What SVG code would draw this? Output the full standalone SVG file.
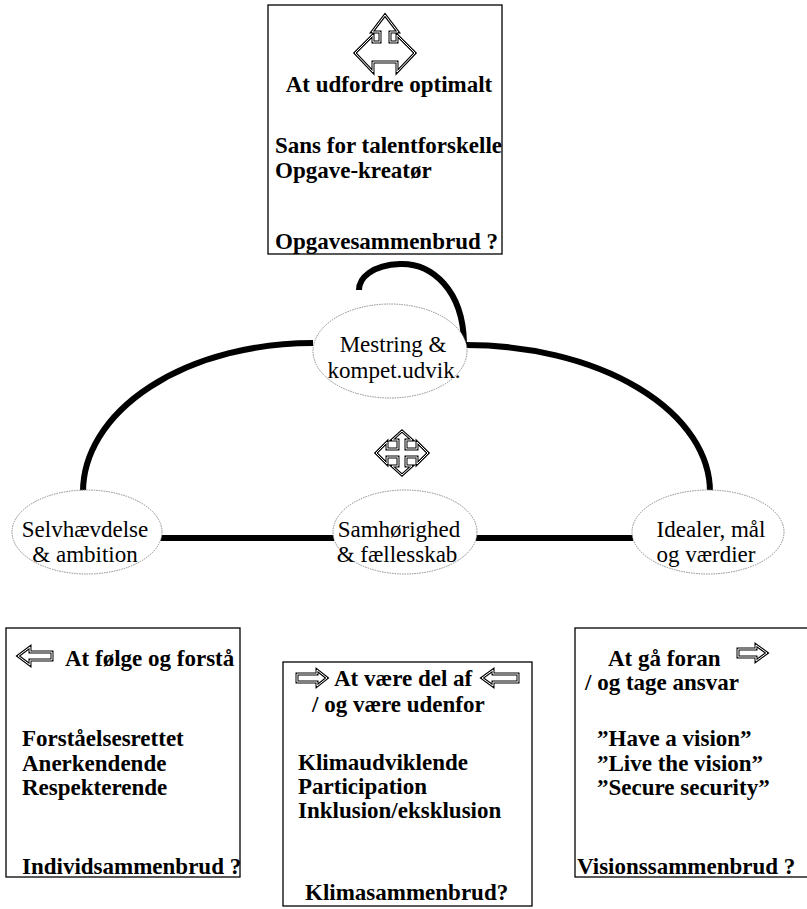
<svg xmlns="http://www.w3.org/2000/svg" xmlns:xlink="http://www.w3.org/1999/xlink" width="807" height="909" viewBox="0 0 807 909">
<style>
.bg{fill:#fff}
.box{fill:#fff;stroke:#000;stroke-width:1.3}
.ell{fill:#fff;stroke:#8a8a8a;stroke-width:1;stroke-dasharray:1.5 1}
.link{fill:none;stroke:#000;stroke-width:6}
.bt{font-family:"Liberation Serif","Times New Roman",serif;font-weight:bold;font-size:23px;fill:#000}
.nt{font-family:"Liberation Serif","Times New Roman",serif;font-size:23px;fill:#000;text-anchor:middle}
.o{fill:#fff;stroke:#000;stroke-width:3;stroke-linejoin:miter}
.i{fill:none;stroke:#fff;stroke-width:1;stroke-linejoin:miter}
</style>
<defs>
<polygon id="tri" points="385,15 398,32 390,32 390,42 397,42 397,35 415,53 397,72 397,62 373,62 373,72 355,53 373,35 373,42 380,42 380,32 372,32"/>
<polygon id="quad" points="402,431 412,440 406,440 406,449 417,449 417,442 428,453 417,464 417,457 406,457 406,466 412,466 402,475 392,466 398,466 398,457 387,457 387,464 376,453 387,442 387,449 398,449 398,440 392,440"/>
<polygon id="aL1" points="18,656 30,647 30,652 52,652 52,660 30,660 30,665"/>
<polygon id="aR2" points="327,678 317,670 317,674 297,674 297,682 317,682 317,686"/>
<polygon id="aL2" points="482,678 493,670 493,674 518,674 518,682 493,682 493,686"/>
<polygon id="aR3" points="767,653 756,645 756,649 738,649 738,657 756,657 756,661"/>
</defs>
<rect class="bg" x="0" y="0" width="807" height="909"/>

<g id="connectors">
<path class="link" d="M 313 343 A 230 149 0 0 0 83 492"/>
<path class="link" d="M 466 345 A 244 147 0 0 1 710 492"/>
<path class="link" d="M 464 343 C 463 290 432 263 400 264 C 372 265 359 278 359 290"/>
<line class="link" x1="158" y1="538" x2="334" y2="538"/>
<line class="link" x1="476" y1="538" x2="633" y2="538"/>
</g>

<g id="box-top">
<rect class="box" x="268" y="5" width="234" height="249"/>
<use xlink:href="#tri" class="o"/>
<use xlink:href="#tri" class="i"/>
<text class="bt" x="389" y="92" text-anchor="middle">At udfordre optimalt</text>
<text class="bt" x="275" y="153">Sans for talentforskelle</text>
<text class="bt" x="275" y="178">Opgave-kreatør</text>
<text class="bt" x="275" y="249">Opgavesammenbrud ?</text>
</g>

<g id="node-mestring">
<ellipse class="ell" cx="390" cy="351" rx="77" ry="47"/>
<text class="nt" x="393" y="352">Mestring &amp;</text>
<text class="nt" x="394" y="378">kompet.udvik.</text>
</g>

<g id="icon-center">
<use xlink:href="#quad" class="o"/>
<use xlink:href="#quad" class="i"/>
</g>

<g id="node-selv">
<ellipse class="ell" cx="87" cy="532" rx="75" ry="42"/>
<text class="nt" x="85" y="537">Selvhævdelse</text>
<text class="nt" x="85" y="562">&amp; ambition</text>
</g>

<g id="node-samh">
<ellipse class="ell" cx="405" cy="532" rx="72" ry="42"/>
<text class="nt" x="399" y="537">Samhørighed</text>
<text class="nt" x="397" y="562">&amp; fællesskab</text>
</g>

<g id="node-idealer">
<ellipse class="ell" cx="708" cy="532" rx="76" ry="42"/>
<text class="nt" x="711" y="537">Idealer, mål</text>
<text class="nt" x="706" y="562">og værdier</text>
</g>

<g id="box-left">
<rect class="box" x="6" y="628" width="234" height="249"/>
<use xlink:href="#aL1" class="o"/>
<use xlink:href="#aL1" class="i"/>
<text class="bt" x="65" y="666">At følge og forstå</text>
<text class="bt" x="22" y="746">Forståelsesrettet</text>
<text class="bt" x="22" y="771">Anerkendende</text>
<text class="bt" x="22" y="795">Respekterende</text>
<text class="bt" x="22" y="874">Individsammenbrud ?</text>
</g>

<g id="box-mid">
<rect class="box" x="283" y="662" width="249" height="244"/>
<use xlink:href="#aR2" class="o"/>
<use xlink:href="#aR2" class="i"/>
<use xlink:href="#aL2" class="o"/>
<use xlink:href="#aL2" class="i"/>
<text class="bt" x="334" y="686">At være del af</text>
<text class="bt" x="312" y="712">/ og være udenfor</text>
<text class="bt" x="298" y="770">Klimaudviklende</text>
<text class="bt" x="298" y="794">Participation</text>
<text class="bt" x="298" y="818">Inklusion/eksklusion</text>
<text class="bt" x="305" y="900">Klimasammenbrud?</text>
</g>

<g id="box-right">
<rect class="box" x="575" y="628" width="240" height="249"/>
<use xlink:href="#aR3" class="o"/>
<use xlink:href="#aR3" class="i"/>
<text class="bt" x="608" y="666">At gå foran</text>
<text class="bt" x="585" y="690">/ og tage ansvar</text>
<text class="bt" x="597" y="746">”Have a vision”</text>
<text class="bt" x="597" y="771">”Live the vision”</text>
<text class="bt" x="597" y="795">”Secure security”</text>
<text class="bt" x="577" y="874">Visionssammenbrud ?</text>
</g>
</svg>
